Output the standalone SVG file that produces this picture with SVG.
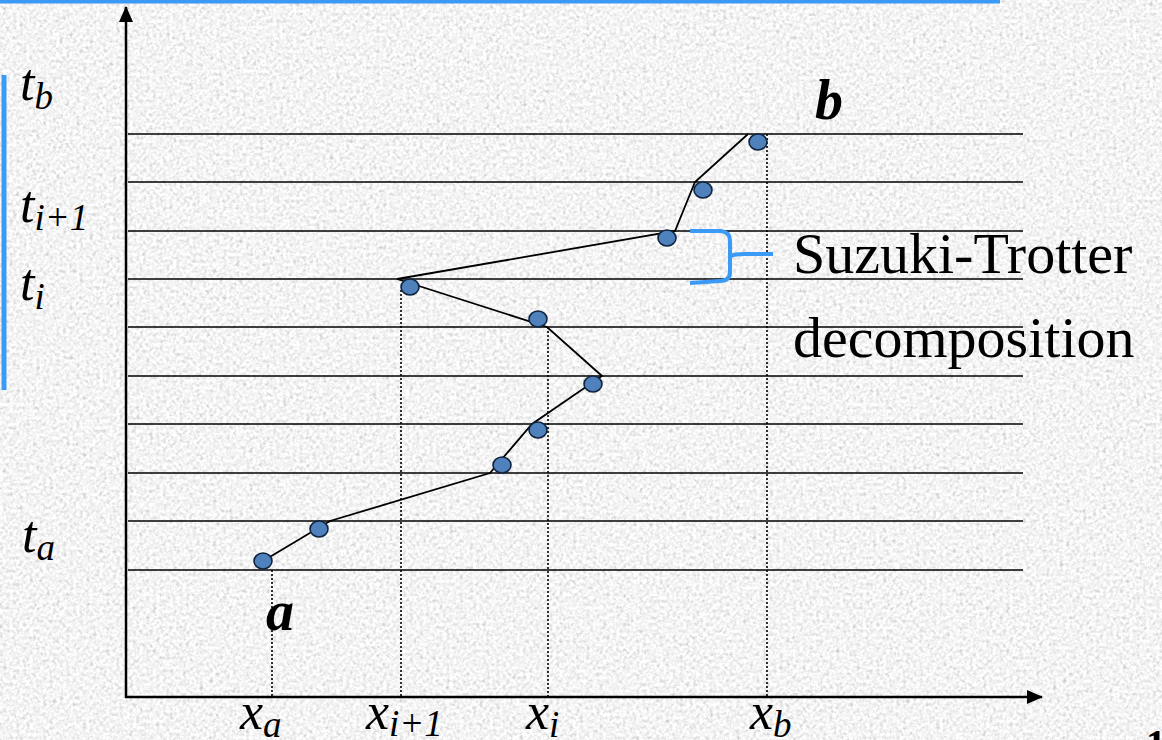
<svg xmlns="http://www.w3.org/2000/svg" width="1162" height="740" viewBox="0 0 1162 740">
<style>
.grid{stroke:#000;stroke-width:1.6;fill:none}
.axis{stroke:#000;stroke-width:2.5;fill:none}
.dot{fill:#4f81bd;stroke:#10243f;stroke-width:1.6}
.dotted{stroke:#000;stroke-width:1.6;stroke-dasharray:2 2;fill:none}
.path{stroke:#000;stroke-width:1.8;fill:none;stroke-linejoin:miter}
.blue{fill:#3b9af5}
.brace{stroke:#3b9af5;stroke-width:4;fill:none;stroke-linecap:butt}
.math{font-family:"Liberation Serif",serif;font-style:italic;font-size:52px;fill:#000}
.sub{font-size:37px}
.label{font-family:"Liberation Serif",serif;font-size:58px;fill:#000}
.pt{font-family:"Liberation Serif",serif;font-style:italic;font-weight:bold;font-size:56px;fill:#000}
</style>
<defs>
<filter id="grain" x="0" y="0" width="1162" height="740" filterUnits="userSpaceOnUse">
<feTurbulence type="fractalNoise" baseFrequency="0.3" numOctaves="3" seed="7" result="n"/>
<feColorMatrix in="n" type="matrix" values="0.33 0.33 0.33 0 0 0.33 0.33 0.33 0 0 0.33 0.33 0.33 0 0 0 0 0 0 1"/>
<feComponentTransfer>
<feFuncR type="linear" slope="1.2" intercept="0.31"/>
<feFuncG type="linear" slope="1.2" intercept="0.31"/>
<feFuncB type="linear" slope="1.2" intercept="0.31"/>
</feComponentTransfer>
</filter>
<marker id="arrow" viewBox="0 0 16 14" refX="15" refY="7" markerWidth="16" markerHeight="14" markerUnits="userSpaceOnUse" orient="auto">
<path d="M0,0 L16,7 L0,14 Z" fill="#000"/>
</marker>
</defs>
<rect x="0" y="0" width="1162" height="740" fill="#e6e6e6" filter="url(#grain)"/>
<g id="frame">
<rect class="blue" x="0" y="0" width="1000" height="3.5"/>
<rect class="blue" x="1.5" y="75" width="5" height="315"/>
</g>
<g id="grid">
<line class="grid" x1="128" y1="134" x2="1023" y2="134"/>
<line class="grid" x1="128" y1="182" x2="1023" y2="182"/>
<line class="grid" x1="128" y1="231" x2="1023" y2="231"/>
<line class="grid" x1="128" y1="279" x2="1023" y2="279"/>
<line class="grid" x1="128" y1="327" x2="1023" y2="327"/>
<line class="grid" x1="128" y1="376" x2="1023" y2="376"/>
<line class="grid" x1="128" y1="424" x2="1023" y2="424"/>
<line class="grid" x1="128" y1="473" x2="1023" y2="473"/>
<line class="grid" x1="128" y1="521" x2="1023" y2="521"/>
<line class="grid" x1="128" y1="570" x2="1023" y2="570"/>
</g>
<g id="axes">
<line class="axis" x1="126" y1="698" x2="126" y2="7" marker-end="url(#arrow)"/>
<line class="axis" x1="125" y1="697" x2="1042" y2="697" marker-end="url(#arrow)"/>
</g>
<g id="connectors">
<line class="dotted" x1="272" y1="570" x2="272" y2="697"/>
<line class="dotted" x1="401" y1="290" x2="401" y2="697"/>
<line class="dotted" x1="548" y1="327" x2="548" y2="697"/>
<line class="dotted" x1="767" y1="134" x2="767" y2="697"/>
<polyline class="path" points="263,561 330,521 490,473 532,424 602,376 547,327 397,279 675,231 695,182 748,134"/>
</g>
<g id="dots">
<ellipse class="dot" cx="263" cy="561" rx="9" ry="8"/>
<ellipse class="dot" cx="319" cy="529" rx="9" ry="8"/>
<ellipse class="dot" cx="502" cy="465" rx="9" ry="8"/>
<ellipse class="dot" cx="538" cy="430" rx="9" ry="8"/>
<ellipse class="dot" cx="593" cy="384" rx="9" ry="8"/>
<ellipse class="dot" cx="538" cy="319" rx="9" ry="8"/>
<ellipse class="dot" cx="410" cy="287" rx="9" ry="8"/>
<ellipse class="dot" cx="667" cy="238" rx="9" ry="8"/>
<ellipse class="dot" cx="703" cy="190" rx="9" ry="8"/>
<ellipse class="dot" cx="758" cy="142" rx="9" ry="8"/>
</g>
<g id="brace">
<path class="brace" d="M690,231 L721,231 Q730,232 730,241 L730,272 Q730,281 720,281 L690,283 M731,256 Q734,254 745,254 L773,254"/>
<text class="label" x="793" y="273">Suzuki-Trotter</text>
<text class="label" x="793" y="357">decomposition</text>
</g>
<g id="points">
<text class="pt" x="815" y="119">b</text>
<text class="pt" x="266" y="630">a</text>
</g>
<g id="t-labels">
<text class="math" x="20" y="100">t<tspan class="sub" dy="9">b</tspan></text>
<text class="math" x="20" y="222">t<tspan class="sub" dy="8">i+1</tspan></text>
<text class="math" x="20" y="300">t<tspan class="sub" dy="9">i</tspan></text>
<text class="math" x="22" y="552">t<tspan class="sub" dy="8">a</tspan></text>
</g>
<g id="x-labels">
<text class="math" x="240" y="729">x<tspan class="sub" dy="8">a</tspan></text>
<text class="math" x="366" y="729">x<tspan class="sub" dy="7">i+1</tspan></text>
<text class="math" x="526" y="729">x<tspan class="sub" dy="8">i</tspan></text>
<text class="math" x="750" y="729">x<tspan class="sub" dy="8">b</tspan></text>
</g>
<text x="1146" y="757" style="font-family:'Liberation Serif',serif;font-weight:bold;font-size:40px">1</text>
</svg>
